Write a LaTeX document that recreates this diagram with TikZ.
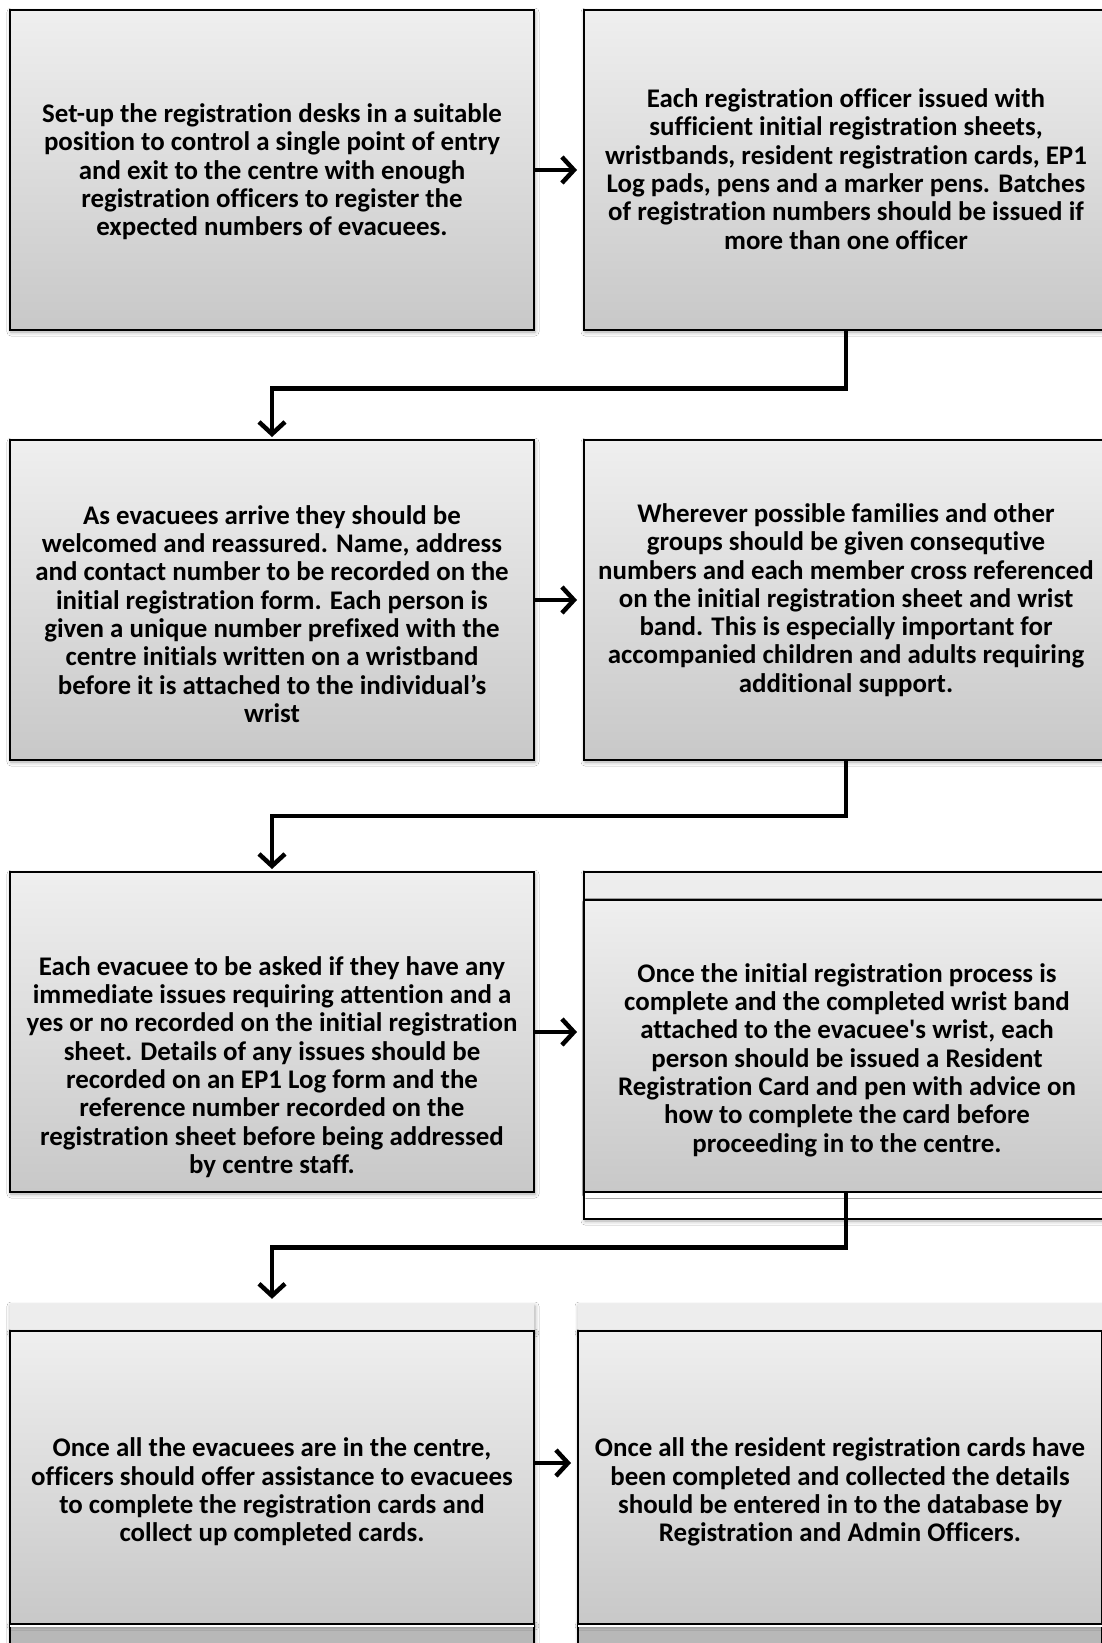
\documentclass[tikz,border=0pt]{standalone}
\usepackage{fontspec}
\setmainfont{Carlito}[Ligatures={TeX,NoCommon}, RawFeature={-liga;-clig;-calt;-dlig}]
\usetikzlibrary{arrows.meta,shadows.blur}
\definecolor{gtop}{HTML}{EFEFEF}
\definecolor{gbot}{HTML}{C8C8C8}
\definecolor{hdr}{HTML}{EDEDED}
\begin{document}
\begin{tikzpicture}[x=1pt,y=-1pt,
  shd/.style={blur shadow={shadow xshift=1pt,shadow yshift=-2pt,shadow blur radius=4pt,shadow opacity=35}},
  bx/.style={rectangle, draw=black, line width=2pt, top color=gtop, bottom color=gbot,
    minimum width=524pt, inner sep=0pt, shd},
  frame/.style={rectangle, draw=black, line width=2pt, fill=white, minimum width=524pt, inner sep=0pt, shd},
  hstrip/.style={rectangle, fill=hdr, minimum width=524pt, inner sep=0pt, shd},
  txt/.style={align=center, font=\bfseries\fontsize{26.9}{28.3}\selectfont, inner sep=0pt},
  conn/.style={line width=4.5pt, -{Straight Barb[length=12pt,width=26pt]}},
 ]
\useasboundingbox (0,0) rectangle (1102,1643);
\fill[white] (0,0) rectangle (1102,1643);

% row 1
\node[bx, minimum height=320pt] (b1) at (272,170) {};
\node[bx, minimum height=320pt] (b2) at (846,170) {};
% row 2
\node[bx, minimum height=320pt] (b3) at (272,600) {};
\node[bx, minimum height=320pt] (b4) at (846,600) {};
% row 3
\node[bx, minimum height=320pt] (b5) at (272,1032) {};
\node[frame, minimum height=347pt] (f6) at (846,1045.5) {};
\node[rectangle, fill=hdr, minimum width=522pt, minimum height=27pt, inner sep=0pt] (h6) at (846,886) {};
\node[bx, minimum height=292pt, blur shadow={shadow opacity=0}] (b6) at (846,1046) {};
% row 4
\node[hstrip, minimum height=27pt] (h7) at (272,1317.5) {};
\node[hstrip, minimum height=27pt] (h8) at (840,1317.5) {};
\node[rectangle, fill=gbot!92!black, minimum width=524pt, minimum height=40pt, inner sep=0pt, shd] (l7) at (272,1644) {};
\node[rectangle, fill=gbot!92!black, minimum width=524pt, minimum height=40pt, inner sep=0pt, shd] (l8) at (840,1644) {};
\draw[line width=2pt] (l7.north west) -- (l7.south west) (l7.north east) -- (l7.south east);
\draw[line width=2pt] (l8.north west) -- (l8.south west) (l8.north east) -- (l8.south east);
\node[bx, minimum height=293pt] (b7) at (272,1477.5) {};
\node[bx, minimum height=293pt] (b8) at (840,1477.5) {};
\draw[white, line width=1.5pt] ([xshift=1pt,yshift=-1pt]b7.south west) -- ([xshift=-1pt,yshift=-1pt]b7.south east);
\draw[white, line width=1.5pt] ([xshift=1pt,yshift=-1pt]b8.south west) -- ([xshift=-1pt,yshift=-1pt]b8.south east);

% texts
\node[txt] (t1) at (272,171.7) {Set-up the registration desks in a suitable\\position to control a single point of entry\\and exit to the centre with enough\\registration officers to register the\\expected numbers of evacuees.};
\node[txt] (t2) at (846,169) {Each registration officer issued with\\sufficient initial registration sheets,\\wristbands, resident registration cards, EP1\\Log pads, pens and a marker pens. Batches\\of registration numbers should be issued if\\more than one officer};
\node[txt] (t3) at (272,614) {As evacuees arrive they should be\\welcomed and reassured. Name, address\\and contact number to be recorded on the\\initial registration form. Each person is\\given a unique number prefixed with the\\centre initials written on a wristband\\before it is attached to the individual’s\\wrist};
\node[txt] (t4) at (846,600) {Wherever possible families and other\\groups should be given consequtive\\numbers and each member cross referenced\\on the initial registration sheet and wrist\\band. This is especially important for\\accompanied children and adults requiring\\additional support.};
\node[txt] (t5) at (272,1067) {Each evacuee to be asked if they have any\\immediate issues requiring attention and a\\yes or no recorded on the initial registration\\sheet. Details of any issues should be\\recorded on an EP1 Log form and the\\reference number recorded on the\\registration sheet before being addressed\\by centre staff.};
\node[txt] (t6) at (847,1060) {Once the initial registration process is\\complete and the completed wrist band\\attached to the evacuee\textquotesingle s wrist, each\\person should be issued a Resident\\Registration Card and pen with advice on\\how to complete the card before\\proceeding in to the centre.};
\node[txt] (t7) at (272,1492) {Once all the evacuees are in the centre,\\officers should offer assistance to evacuees\\to complete the registration cards and\\collect up completed cards.};
\node[txt] (t8) at (840,1492) {Once all the resident registration cards have\\been completed and collected the details\\should be entered in to the database by\\Registration and Admin Officers.};

% connectors
\coordinate (a7) at (534,1463);
\draw[conn, shorten >=6pt] (b1.east) -- (b2.west);
\draw[conn, shorten >=6pt] (b3.east) -- (b4.west);
\draw[conn, shorten >=6pt] (b5.east) -- (b5.east -| b6.west);
\draw[conn, shorten >=6pt] (b7.east |- a7) -- (b8.west |- a7);
\draw[conn, shorten >=2pt] (b2.south) -- ++(0,57.5) -| (b3.north);
\draw[conn, shorten >=2pt] (b4.south) -- ++(0,55) -| (b5.north);
\draw[conn, shorten >=5pt] (b6.south) -- ++(0,54.5) -| (h7.north);
\end{tikzpicture}
\end{document}
